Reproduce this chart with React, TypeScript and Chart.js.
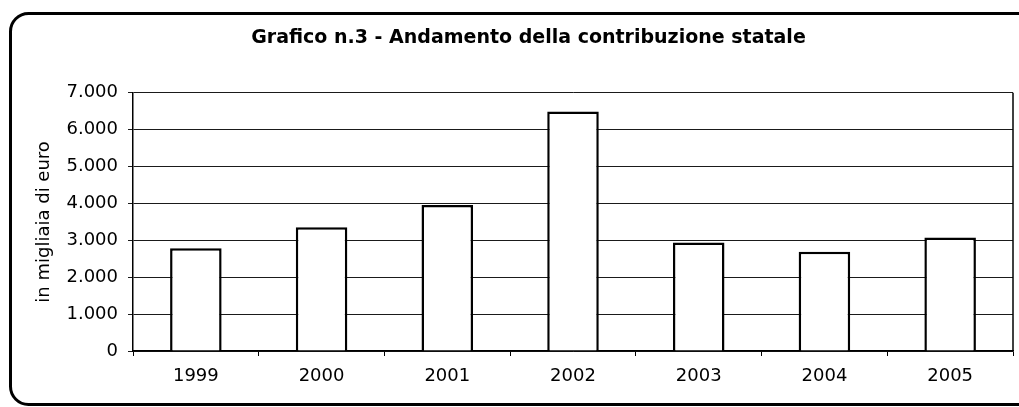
import React, { useEffect, useRef } from "react";
import { Chart, registerables } from "chart.js";

Chart.register(...registerables);

const categories = ["1999", "2000", "2001", "2002", "2003", "2004", "2005"];
const contribuzione = [2785, 3355, 3960, 6495, 2940, 2690, 3080];
const yTickLabels = ["0", "1.000", "2.000", "3.000", "4.000", "5.000", "6.000", "7.000"];
const chartTitle = "Grafico n.3 - Andamento della contribuzione statale";
const yAxisTitle = "in migliaia di euro";

const FONT = "'DejaVu Sans', Verdana, sans-serif";

const framePlugin = {
  id: "frame",
  afterDraw(chart: any) {
    const { ctx, chartArea } = chart;
    ctx.save();
    ctx.strokeStyle = "#000";
    ctx.lineWidth = 1.5;
    ctx.beginPath();
    ctx.moveTo(chartArea.right, chartArea.top);
    ctx.lineTo(chartArea.right, chartArea.bottom);
    ctx.stroke();
    ctx.lineWidth = 3;
    ctx.beginPath();
    ctx.roundRect(10.5, 13.5, 1030, 391, 18);
    ctx.stroke();
    ctx.restore();
  },
};

export default function App() {
  const ref = useRef<HTMLCanvasElement>(null);
  useEffect(() => {
    if (!ref.current) return;
    const padLeft = 44;
    const chart = new Chart(ref.current, {
      type: "bar",
      data: {
        labels: categories,
        datasets: [
          {
            data: contribuzione,
            backgroundColor: "#ffffff",
            borderColor: "#000000",
            borderWidth: 2.5,
            categoryPercentage: 1,
            barPercentage: 0.41,
          },
        ],
      },
      options: {
        animation: false,
        responsive: false,
        events: [],
        layout: { padding: { left: padLeft, right: 6, top: 0, bottom: 0 } },
        plugins: {
          legend: { display: false },
          tooltip: { enabled: false },
          title: {
            display: true,
            text: chartTitle,
            color: "#000",
            font: { family: FONT, size: 19, weight: "bold" },
            padding: { top: 27, bottom: 43 },
          },
        },
        scales: {
          x: {
            offset: true,
            grid: {
              display: true,
              drawOnChartArea: false,
              drawTicks: true,
              tickLength: 5,
              offset: true,
              color: "#000",
            },
            border: { display: true, color: "#000", width: 1.5 },
            ticks: {
              color: "#000",
              font: { family: FONT, size: 18 },
              padding: 10,
              maxRotation: 0,
            },
            afterFit: (s: any) => {
              s.height = 56;
            },
          },
          y: {
            min: 0,
            max: 7000,
            grid: {
              color: "#1a1a1a",
              lineWidth: 1,
              drawTicks: true,
              tickLength: 5,
            },
            border: { display: true, color: "#000", width: 1.5 },
            ticks: {
              stepSize: 1000,
              color: "#000",
              font: { family: FONT, size: 18 },
              padding: 10,
              callback: (_v: any, i: number) => yTickLabels[i],
            },
            title: {
              display: true,
              text: yAxisTitle,
              color: "#000",
              font: { family: FONT, size: 18 },
              padding: { top: -10, bottom: 0 },
            },
            afterFit: (s: any) => {
              s.width = 133 - padLeft;
            },
          },
        },
      },
      plugins: [framePlugin],
    });
    return () => chart.destroy();
  }, []);
  return (
    <div style={{ position: "absolute", left: 0, top: 0, width: 1019, height: 407, background: "#fff" }}>
      <canvas ref={ref} width={1019} height={407} style={{ display: "block" }} />
    </div>
  );
}
